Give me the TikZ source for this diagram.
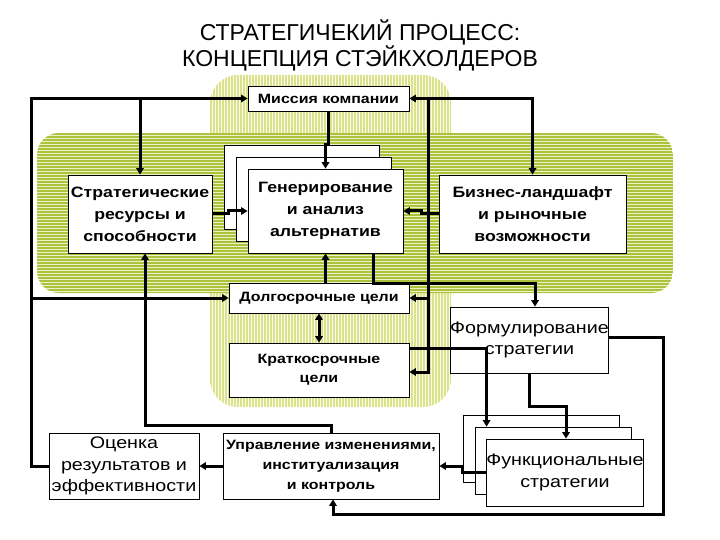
\documentclass[tikz,border=0pt]{standalone}
\usepackage{fontspec}
\setmainfont{Liberation Sans}[FakeStretch=1.18]
\newfontfamily\titlefont{Liberation Sans}
\usetikzlibrary{arrows.meta}
\definecolor{hbase}{RGB}{236,241,200}
\definecolor{hline}{RGB}{172,194,60}
\definecolor{vbase}{RGB}{252,252,238}
\definecolor{vline}{RGB}{218,226,140}
\begin{document}
\begin{tikzpicture}[x=1pt,y=-1pt,
    box/.style={draw=black,line width=0.8pt,fill=white,inner sep=0pt,align=center},
    bbig/.style={font=\fontsize{15}{22}\selectfont\bfseries},
    bsmall/.style={font=\fontsize{13.5}{19}\selectfont\bfseries},
    rbig/.style={font=\fontsize{16.7}{21.5}\selectfont},
    conn/.style={line width=3pt,-{Triangle[length=6.5pt,width=7.5pt]}},
    dconn/.style={line width=3pt,{Triangle[length=6.5pt,width=7.5pt]}-{Triangle[length=6.5pt,width=7.5pt]}}]

    \useasboundingbox (0,0) rectangle (720,540);

    \begin{scope}
        \clip[rounded corners=28] (210,75) rectangle (451,407);
        \fill[vbase] (210,75) rectangle (451,407);
        \foreach \x in {211,214,...,451} \draw[vline,line width=1.3pt] (\x,75) -- (\x,407);
    \end{scope}
    \begin{scope}
        \clip[rounded corners=22] (37,133) rectangle (673,293);
        \fill[hbase] (37,133) rectangle (673,293);
        \foreach \y in {134,137,...,293} \draw[hline,line width=1.5pt] (37,\y) -- (673,\y);
    \end{scope}

    \node[align=center,font=\titlefont\fontsize{23}{26}\selectfont] (T) at (360,45) {СТРАТЕГИЧЕКИЙ ПРОЦЕСС:\\КОНЦЕПЦИЯ СТЭЙКХОЛДЕРОВ};

    \node[box,bsmall,minimum width=161,minimum height=25] (M) at (328.5,98.5) {Миссия компании};
    \node[box,bbig,minimum width=144,minimum height=78] (R) at (140,214) {Стратегические\\ресурсы и\\способности};
    \node[box,minimum width=155,minimum height=84] (G3) at (301.5,187) {};
    \node[box,minimum width=155,minimum height=84] (G2) at (313.5,199) {};
    \node[box,bbig,minimum width=155,minimum height=84] (G) at (325.5,211) {Генерирование\\и анализ\\альтернатив};
    \node[box,bbig,minimum width=187,minimum height=78] (B) at (532.5,214) {Бизнес-ландшафт\\и рыночные\\возможности};
    \node[box,bsmall,minimum width=180,minimum height=30] (L) at (319,298) {Долгосрочные цели};
    \node[box,bsmall,minimum width=180,minimum height=54] (K) at (319,370) {Краткосрочные\\цели};
    \node[box,rbig,minimum width=155,minimum height=66] (F) at (529.5,340) {Формулирование\\стратегии};
    \node[box,minimum width=156,minimum height=67] (S3) at (541,448.5) {};
    \node[box,minimum width=156,minimum height=67] (S2) at (553,460.5) {};
    \node[box,rbig,minimum width=156,minimum height=67] (S) at (565,472.5) {Функциональные\\стратегии};
    \node[box,font=\fontsize{13.5}{20}\selectfont\bfseries,minimum width=216,minimum height=66] (U) at (331,466) {Управление изменениями,\\институализация\\и контроль};
    \node[box,rbig,minimum width=150,minimum height=66] (O) at (124,466) {Оценка\\результатов и\\эффективности};

    \coordinate (LB) at (32,298);
    \coordinate (BT) at (428,98.5);
    \coordinate (FR) at (663,514);

    \draw[conn] (O.west) -- ++(-17,0) |- (M.west);
    \draw[conn] (R.north |- M.west) -- (R.north);
    \draw[conn] (LB) -- (L.west);
    \draw[conn] (U.north) -- ++(0,-7) -| ([xshift=5]R.south);
    \draw[conn] (M.south) -- ++(0,33) -| (G.north);
    \draw[conn] (R.east) -- ++(16,0) |- (G.west);
    \draw[conn] (B.west) -- ++(-17,0) |- (G.east);
    \draw[conn] (L.north -| G.south) -- (G.south);
    \draw[dconn] (L.south) -- (K.north);
    \draw[dconn] (M.east) -| (B.north);
    \draw[conn] (BT) |- ([yshift=-2]K.east);
    \draw[conn] (BT |- L.east) -- (L.east);
    \draw[conn] ([xshift=47.5]G.south) -- ++(0,30) -| ([xshift=5.5]F.north);
    \draw[conn] ([yshift=22]K.east) -| ([xshift=12]S2.north west);
    \draw[conn] (F.south) -- ++(0,33) -| ([xshift=1]S.north);
    \draw[conn] (S.west) -- ++(-24,0) |- (U.east);
    \draw[conn] (U.west) -- (O.east);
    \draw[conn] ([yshift=3]F.east) -| (FR) -| ([xshift=2]U.south);

\end{tikzpicture}
\end{document}
